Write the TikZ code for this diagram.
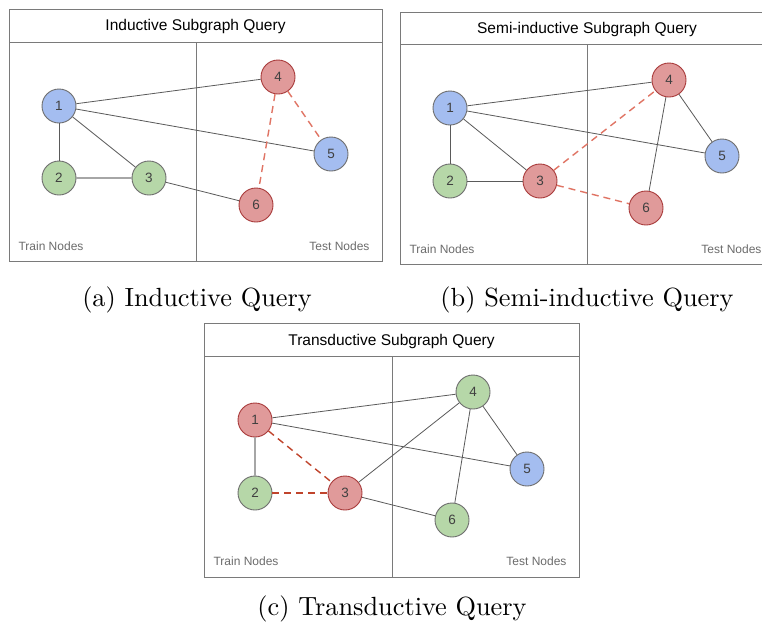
\documentclass[tikz,border=0pt]{standalone}
\usepackage{fontspec}
\newfontfamily\arial{Liberation Sans}
\newfontfamily\captfont{lmroman10-regular.otf}
\definecolor{nblue}{HTML}{A4BDF0}
\definecolor{ngreen}{HTML}{B6D7A8}
\definecolor{nred}{HTML}{E09A9A}
\definecolor{rborder}{HTML}{A83A3A}
\definecolor{gborder}{HTML}{6E6E6E}
\definecolor{edgecol}{HTML}{5A5A5A}
\definecolor{dashA}{HTML}{E07464}
\definecolor{dashC}{HTML}{C0442C}
\definecolor{framecol}{HTML}{7A7A7A}
\definecolor{txt}{HTML}{404040}
\tikzset{
  vtx/.style={circle, minimum size=34pt, inner sep=0pt, line width=0.9pt,
    font=\arial\fontsize{13.5}{13.5}\selectfont, text=txt},
  bluev/.style={vtx, draw=gborder, fill=nblue},
  greenv/.style={vtx, draw=gborder, fill=ngreen},
  redv/.style={vtx, draw=rborder, fill=nred},
  edge/.style={draw=edgecol, line width=0.8pt},
  softedge/.style={draw=gray!70, line width=1.6pt},
  qedgeA/.style={draw=dashA, line width=1.4pt, dash pattern=on 7pt off 5pt},
  qedgeC/.style={draw=dashC, line width=1.4pt, dash pattern=on 7pt off 5pt},
  frame/.style={draw=framecol, line width=0.9pt},
  ptitle/.style={font=\arial\fontsize{15.5}{16}\selectfont, text=black},
  side/.style={font=\arial\fontsize{12}{12}\selectfont, text=gray!85!black},
  capt/.style={font=\captfont\fontsize{26.3}{30}\selectfont, text=black}
}
\begin{document}
\begin{tikzpicture}[x=1pt, y=-1pt]
\useasboundingbox (0,0) rectangle (762,625);
\clip (0,0) rectangle (762,625);
\fill[white] (0,0) rectangle (762,625);

% ---- (a) inductive ----
\draw[frame] (9,9) rectangle (382,261);
\draw[frame] (9,42) -- (382,42);
\draw[frame] (196,42) -- (196,261);
\node[ptitle] (ta) at (195.5,26) {Inductive Subgraph Query};
\node[side, anchor=west] (tra) at (15,246) {Train Nodes};
\node[side, anchor=east] (tea) at (373,246) {Test Nodes};
\node[bluev]  (a1) at (59,106) {1};
\node[greenv] (a2) at (59,178) {2};
\node[greenv] (a3) at (149,178) {3};
\node[redv]   (a4) at (278,77) {4};
\node[bluev]  (a5) at (331,154) {5};
\node[redv]   (a6) at (256,205) {6};
\path[edge] (a1) -- (a4);
\path[edge] (a1) -- (a5);
\path[edge] (a1) -- (a3);
\path[edge] (a1) -- (a2);
\path[softedge] (a2) -- (a3);
\path[edge] (a3) -- (a6);
\path[qedgeA] (a4) -- (a6);
\path[qedgeA] (a4) -- (a5);

% ---- (b) semi-inductive ----
\draw[frame] (400,12) rectangle (774,264);
\draw[frame] (400,44) -- (774,44);
\draw[frame] (587,44) -- (587,264);
\node[ptitle] (tb) at (587,29) {Semi-inductive Subgraph Query};
\node[side, anchor=west] (trb) at (406,249) {Train Nodes};
\node[side, anchor=east] (teb) at (765,249) {Test Nodes};
\node[bluev]  (b1) at (450,108) {1};
\node[greenv] (b2) at (450,181) {2};
\node[redv]   (b3) at (540,181) {3};
\node[redv]   (b4) at (669,80) {4};
\node[bluev]  (b5) at (722,156) {5};
\node[redv]   (b6) at (646,208) {6};
\path[edge] (b1) -- (b4);
\path[edge] (b1) -- (b5);
\path[edge] (b1) -- (b3);
\path[edge] (b1) -- (b2);
\path[edge] (b2) -- (b3);
\path[edge] (b4) -- (b5);
\path[edge] (b4) -- (b6);
\path[qedgeA] (b3) -- (b4);
\path[qedgeA] (b3) -- (b6);

% ---- (c) transductive ----
\draw[frame] (204,323) rectangle (579,577);
\draw[frame] (204,356) -- (579,356);
\draw[frame] (392,356) -- (392,577);
\node[ptitle] (tc) at (391.5,341) {Transductive Subgraph Query};
\node[side, anchor=west] (trc) at (210,561) {Train Nodes};
\node[side, anchor=east] (tec) at (570,561) {Test Nodes};
\node[redv]   (c1) at (255,420) {1};
\node[greenv] (c2) at (255,493) {2};
\node[redv]   (c3) at (345,493) {3};
\node[greenv] (c4) at (473,392) {4};
\node[bluev]  (c5) at (527,469) {5};
\node[greenv] (c6) at (452,520) {6};
\path[edge] (c1) -- (c4);
\path[edge] (c1) -- (c5);
\path[softedge] (c1) -- (c2);
\path[edge] (c3) -- (c4);
\path[edge] (c3) -- (c6);
\path[edge] (c4) -- (c5);
\path[edge] (c4) -- (c6);
\path[qedgeC] (c1) -- (c3);
\path[qedgeC] (c2) -- (c3);

% ---- captions ----
\node[capt] (capa) at (197,300) {(a) Inductive Query};
\node[capt] (capb) at (587,300) {(b) Semi-inductive Query};
\node[capt] (capc) at (392,609) {(c) Transductive Query};
\end{tikzpicture}
\end{document}
